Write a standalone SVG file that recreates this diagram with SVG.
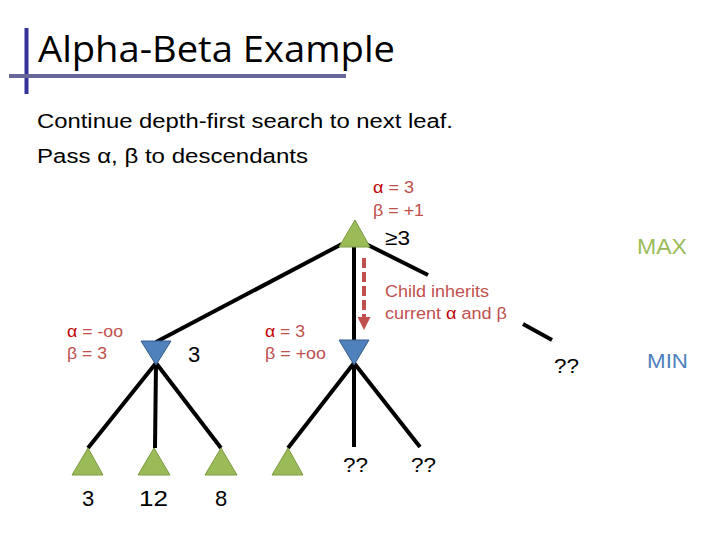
<svg xmlns="http://www.w3.org/2000/svg" width="720" height="540" viewBox="0 0 720 540">
<style>
  .body { font-family: "Liberation Sans", Arial, sans-serif; }
  .red { fill: #c0504d; font-family: "Liberation Sans", Arial, sans-serif; font-size: 16px; }
  .a { fill: #c00000; }
  .edge { stroke: #000; stroke-width: 4; fill: none; }
  .max { fill: #9bbb59; stroke: #7a9a40; stroke-width: 1; }
  .min { fill: #4f81bd; stroke: #385d8a; stroke-width: 1; }
  .num { font-family: "Liberation Sans", Arial, sans-serif; font-size: 22px; fill: #000; text-anchor: middle; }
</style>
<defs>
  <marker id="redhead" markerWidth="13" markerHeight="13" refX="0" refY="6.5" orient="auto" markerUnits="userSpaceOnUse" viewBox="0 0 13 13">
    <path d="M0,0 L13,6.5 L0,13 Z" fill="#c0504d"/>
  </marker>
</defs>
<rect width="720" height="540" fill="#fff"/>
<!-- title -->
<rect x="24.5" y="28" width="4" height="66" fill="#333399"/>
<rect x="9" y="74" width="337" height="4" fill="#666699"/>
<text x="38" y="62" font-family="Open Sans, Noto Sans, sans-serif" font-size="36" textLength="357" lengthAdjust="spacingAndGlyphs" fill="#000">Alpha-Beta Example</text>
<text class="body" x="37" y="128" font-size="20" fill="#000" textLength="416" lengthAdjust="spacingAndGlyphs">Continue depth-first search to next leaf.</text>
<text class="body" x="37" y="163" font-size="20" fill="#000" textLength="271" lengthAdjust="spacingAndGlyphs">Pass α, β to descendants</text>

<g id="connectors">
  <line class="edge" x1="342" y1="244" x2="156" y2="342"/>
  <line class="edge" x1="354" y1="244" x2="354" y2="342"/>
  <line class="edge" x1="366" y1="244" x2="428" y2="275"/>
  <line class="edge" x1="523" y1="324" x2="552" y2="340"/>
  <line class="edge" x1="156" y1="363" x2="88" y2="448"/>
  <line class="edge" x1="156" y1="363" x2="155" y2="448"/>
  <line class="edge" x1="156" y1="363" x2="221" y2="448"/>
  <line class="edge" x1="354" y1="363" x2="288" y2="448"/>
  <line class="edge" x1="354" y1="363" x2="354" y2="447"/>
  <line class="edge" x1="354" y1="363" x2="420" y2="447"/>
  <line x1="364" y1="258" x2="364" y2="317" stroke="#c0504d" stroke-width="4" stroke-dasharray="10,4" marker-end="url(#redhead)"/>
</g>

<g id="root">
  <polygon class="max" points="355,220 370,247 339,247"/>
  <text class="red" x="373" y="193" textLength="41" lengthAdjust="spacingAndGlyphs"><tspan class="a">α</tspan> = 3</text>
  <text class="red" x="373" y="216" textLength="51" lengthAdjust="spacingAndGlyphs">β = +1</text>
  <text class="body" x="385" y="245" font-size="21" fill="#000" textLength="25" lengthAdjust="spacingAndGlyphs">≥3</text>
</g>

<g id="min1">
  <polygon class="min" points="141,341 171,341 156,365"/>
  <text class="red" x="67" y="337" textLength="56" lengthAdjust="spacingAndGlyphs"><tspan class="a">α</tspan> = -oo</text>
  <text class="red" x="67" y="359" textLength="40" lengthAdjust="spacingAndGlyphs">β = 3</text>
  <text class="num" x="194" y="362" font-size="25">3</text>
</g>

<g id="min2">
  <polygon class="min" points="339,340 369,340 354,365"/>
  <text class="red" x="265" y="337" textLength="40" lengthAdjust="spacingAndGlyphs"><tspan class="a">α</tspan> = 3</text>
  <text class="red" x="265" y="359" textLength="61" lengthAdjust="spacingAndGlyphs">β = +oo</text>
</g>

<g id="note">
  <text class="red" x="385" y="297" textLength="104" lengthAdjust="spacingAndGlyphs">Child inherits</text>
  <text class="red" x="385" y="319" textLength="122" lengthAdjust="spacingAndGlyphs">current <tspan class="a">α</tspan> and β</text>
</g>

<g id="min3">
  <text class="body" x="554" y="373" font-size="20" fill="#000" textLength="25" lengthAdjust="spacingAndGlyphs">??</text>
</g>

<g id="leaf1">
  <polygon class="max" points="88,448 103,475 72,475"/>
  <text class="num" x="88" y="506">3</text>
</g>
<g id="leaf2">
  <polygon class="max" points="154,448 170,475 138,475"/>
  <text class="body" x="139" y="506" font-size="22" fill="#000" textLength="29" lengthAdjust="spacingAndGlyphs">12</text>
</g>
<g id="leaf3">
  <polygon class="max" points="221,448 237,475 205,475"/>
  <text class="num" x="221" y="506">8</text>
</g>
<g id="leaf4">
  <polygon class="max" points="288,448 303,475 272,475"/>
</g>
<g id="leaf5">
  <text class="body" x="343" y="472" font-size="20" fill="#000" textLength="25" lengthAdjust="spacingAndGlyphs">??</text>
</g>
<g id="leaf6">
  <text class="body" x="411" y="472" font-size="20" fill="#000" textLength="25" lengthAdjust="spacingAndGlyphs">??</text>
</g>

<g id="labels">
  <text class="body" x="637" y="254" font-size="22" fill="#9bbb59" textLength="50" lengthAdjust="spacingAndGlyphs">MAX</text>
  <text class="body" x="647" y="368" font-size="21" fill="#4f81bd" textLength="41" lengthAdjust="spacingAndGlyphs">MIN</text>
</g>
</svg>
